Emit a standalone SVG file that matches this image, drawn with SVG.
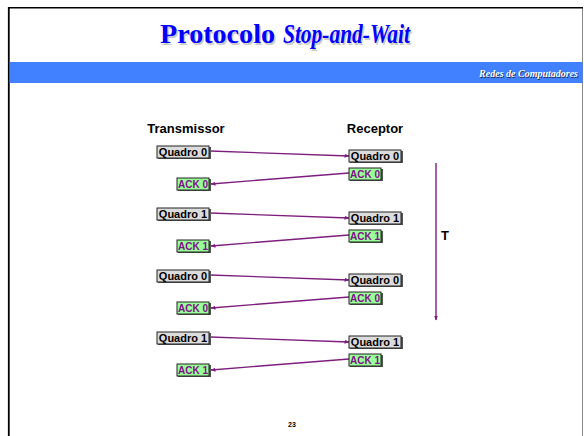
<svg xmlns="http://www.w3.org/2000/svg" width="584" height="436" viewBox="0 0 584 436">
  <defs>
    <marker id="ah" viewBox="0 0 10 10" refX="9" refY="5" markerWidth="5" markerHeight="5" orient="auto" markerUnits="userSpaceOnUse">
      <path d="M0,1 L10,5 L0,9 z" fill="#7d1d7d"/>
    </marker>
    <style>
      .q rect.b { fill: #dcdcdc; stroke: #222; stroke-width: 1; }
      .a rect.b { fill: #99ff99; stroke: #222; stroke-width: 1; }
      rect.s { fill: #555555; }
      .q text { font-family: "Liberation Sans", Arial, sans-serif; font-weight: bold; font-size: 11px; fill: #000; }
      .a text { font-family: "Liberation Sans", Arial, sans-serif; font-weight: bold; font-size: 10px; fill: #80108a; }
      .lbl { font-family: "Liberation Sans", Arial, sans-serif; font-weight: bold; font-size: 13px; fill: #000; }
      .conn line { stroke: #7d1d7d; stroke-width: 1.4; marker-end: url(#ah); }
      .sub { font-family: "Liberation Serif", "Times New Roman", serif; font-weight: bold; font-style: italic; font-size: 10px; }
    </style>
  </defs>
  <rect x="0" y="0" width="584" height="436" fill="#ffffff"/>
  <!-- slide frame -->
  <line x1="582.5" y1="8" x2="582.5" y2="436" stroke="#888" stroke-width="1"/>
  <line x1="8" y1="7.7" x2="583" y2="7.7" stroke="#000" stroke-width="1.5"/>
  <line x1="8.8" y1="7" x2="8.8" y2="436" stroke="#000" stroke-width="1.8"/>
  <!-- band -->
  <rect x="9.7" y="62" width="573" height="21" fill="#4181ff"/>
  <!-- title -->
  <g id="title">
    <text x="161.5" y="44.5" font-family="Liberation Serif, Times New Roman, serif" font-weight="bold" font-size="27" fill="#999" opacity="0.5"><tspan textLength="115" lengthAdjust="spacingAndGlyphs">Protocolo</tspan><tspan x="284.5" font-style="italic" textLength="127" lengthAdjust="spacingAndGlyphs">Stop-and-Wait</tspan></text>
    <text x="160" y="43" font-family="Liberation Serif, Times New Roman, serif" font-weight="bold" font-size="27" fill="#0000ff"><tspan textLength="115" lengthAdjust="spacingAndGlyphs">Protocolo</tspan><tspan x="283" font-style="italic" textLength="127" lengthAdjust="spacingAndGlyphs">Stop-and-Wait</tspan></text>
  </g>
  <g id="subtitle">
    <text class="sub" x="578.8" y="77.8" text-anchor="end" fill="#1a2a55">Redes de Computadores</text>
    <text class="sub" x="578" y="77" text-anchor="end" fill="#ffffff">Redes de Computadores</text>
  </g>
  <g id="transmissor"><text class="lbl" x="186" y="133" text-anchor="middle">Transmissor</text></g>
  <g id="receptor"><text class="lbl" x="375" y="133" text-anchor="middle">Receptor</text></g>

  <!-- connectors -->
  <g class="conn" id="connectors">
    <line x1="210" y1="151" x2="349" y2="156"/>
    <line x1="349" y1="173" x2="211" y2="184"/>
    <line x1="210" y1="213" x2="349" y2="218"/>
    <line x1="349" y1="235" x2="211" y2="246"/>
    <line x1="210" y1="275" x2="349" y2="280"/>
    <line x1="349" y1="297" x2="211" y2="308"/>
    <line x1="210" y1="337" x2="349" y2="342"/>
    <line x1="349" y1="359" x2="211" y2="370"/>
    <line x1="436" y1="163" x2="436" y2="320"/>
  </g>

  <!-- cycle 1 -->
  <g id="tq0a" class="q"><rect class="s" x="158" y="147" width="53" height="12"/><rect class="b" x="157" y="146" width="52" height="12"/><text x="183" y="156.2" text-anchor="middle">Quadro 0</text></g>
  <g id="rq0a" class="q"><rect class="s" x="350" y="151" width="53" height="12"/><rect class="b" x="349" y="150" width="52" height="12"/><text x="375" y="160.2" text-anchor="middle">Quadro 0</text></g>
  <g id="ra0a" class="a"><rect class="s" x="350" y="169" width="33" height="12"/><rect class="b" x="349" y="168" width="32" height="12"/><text x="365" y="177.8" text-anchor="middle">ACK 0</text></g>
  <g id="ta0a" class="a"><rect class="s" x="178" y="179" width="33" height="12"/><rect class="b" x="177" y="178" width="32" height="12"/><text x="193" y="187.8" text-anchor="middle">ACK 0</text></g>
  <!-- cycle 2 -->
  <g id="tq1a" class="q"><rect class="s" x="158" y="209" width="53" height="12"/><rect class="b" x="157" y="208" width="52" height="12"/><text x="183" y="218.2" text-anchor="middle">Quadro 1</text></g>
  <g id="rq1a" class="q"><rect class="s" x="350" y="213" width="53" height="12"/><rect class="b" x="349" y="212" width="52" height="12"/><text x="375" y="222.2" text-anchor="middle">Quadro 1</text></g>
  <g id="ra1a" class="a"><rect class="s" x="350" y="231" width="33" height="12"/><rect class="b" x="349" y="230" width="32" height="12"/><text x="365" y="239.8" text-anchor="middle">ACK 1</text></g>
  <g id="ta1a" class="a"><rect class="s" x="178" y="241" width="33" height="12"/><rect class="b" x="177" y="240" width="32" height="12"/><text x="193" y="249.8" text-anchor="middle">ACK 1</text></g>
  <!-- cycle 3 -->
  <g id="tq0b" class="q"><rect class="s" x="158" y="271" width="53" height="12"/><rect class="b" x="157" y="270" width="52" height="12"/><text x="183" y="280.2" text-anchor="middle">Quadro 0</text></g>
  <g id="rq0b" class="q"><rect class="s" x="350" y="275" width="53" height="12"/><rect class="b" x="349" y="274" width="52" height="12"/><text x="375" y="284.2" text-anchor="middle">Quadro 0</text></g>
  <g id="ra0b" class="a"><rect class="s" x="350" y="293" width="33" height="12"/><rect class="b" x="349" y="292" width="32" height="12"/><text x="365" y="301.8" text-anchor="middle">ACK 0</text></g>
  <g id="ta0b" class="a"><rect class="s" x="178" y="303" width="33" height="12"/><rect class="b" x="177" y="302" width="32" height="12"/><text x="193" y="311.8" text-anchor="middle">ACK 0</text></g>
  <!-- cycle 4 -->
  <g id="tq1b" class="q"><rect class="s" x="158" y="333" width="53" height="12"/><rect class="b" x="157" y="332" width="52" height="12"/><text x="183" y="342.2" text-anchor="middle">Quadro 1</text></g>
  <g id="rq1b" class="q"><rect class="s" x="350" y="337" width="53" height="12"/><rect class="b" x="349" y="336" width="52" height="12"/><text x="375" y="346.2" text-anchor="middle">Quadro 1</text></g>
  <g id="ra1b" class="a"><rect class="s" x="350" y="355" width="33" height="12"/><rect class="b" x="349" y="354" width="32" height="12"/><text x="365" y="363.8" text-anchor="middle">ACK 1</text></g>
  <g id="ta1b" class="a"><rect class="s" x="178" y="365" width="33" height="12"/><rect class="b" x="177" y="364" width="32" height="12"/><text x="193" y="373.8" text-anchor="middle">ACK 1</text></g>

  <g id="time-label"><text class="lbl" x="441" y="240" font-size="12">T</text></g>
  <g id="page-number"><text x="292" y="427" text-anchor="middle" font-family="Liberation Sans, Arial, sans-serif" font-weight="bold" font-size="7" fill="#000">23</text></g>
</svg>
